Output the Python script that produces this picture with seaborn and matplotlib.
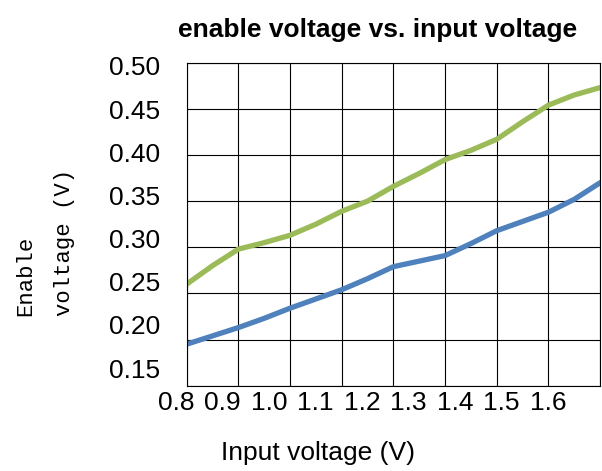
import matplotlib
matplotlib.use("Agg")
import matplotlib.pyplot as plt
import numpy as np
import pandas as pd
import seaborn as sns

# readings, 0.05 V steps
input_v = [0.80, 0.85, 0.90, 0.95, 1.00, 1.05, 1.10, 1.15, 1.20,
           1.25, 1.30, 1.35, 1.40, 1.45, 1.50, 1.55, 1.60]
upper = [0.260, 0.280, 0.298, 0.305, 0.313, 0.325, 0.339, 0.350, 0.366,
         0.380, 0.395, 0.405, 0.417, 0.436, 0.454, 0.465, 0.473]
lower = [0.195, 0.204, 0.213, 0.223, 0.234, 0.244, 0.254, 0.266, 0.279,
         0.285, 0.291, 0.304, 0.318, 0.328, 0.338, 0.352, 0.370]

x_grid = [0.8, 0.9, 1.0, 1.1, 1.2, 1.3, 1.4, 1.5, 1.6]
x_labels = ["0.8", "0.9", "1.0", "1.1", "1.2", "1.3", "1.4", "1.5", "1.6"]
y_grid = [0.15, 0.20, 0.25, 0.30, 0.35, 0.40, 0.45, 0.50]
y_labels = ["0.15", "0.20", "0.25", "0.30", "0.35", "0.40", "0.45", "0.50"]

df = pd.DataFrame({
    "input": input_v * 2,
    "enable": upper + lower,
    "curve": ["upper"] * len(upper) + ["lower"] * len(lower),
})

sns.set_style("white")
plt.rcParams["font.family"] = ["Liberation Sans", "DejaVu Sans"]
plt.rcParams["text.color"] = "black"

fig = plt.figure(figsize=(6.02, 4.71), dpi=100)
rect = [0.310, 0.181, 0.687, 0.686]
ax = fig.add_axes(rect)

sns.lineplot(data=df, x="input", y="enable", hue="curve",
             palette={"upper": "#9BBB59", "lower": "#4F81BD"},
             linewidth=3.8, legend=False, ax=ax)

ax.set_xticks(x_grid)
ax.set_yticks(y_grid)
ax.set_xticklabels([])
ax.set_yticklabels([])
ax.set_xlim(x_grid[0], x_grid[-1])
ax.set_ylim(y_grid[0], y_grid[-1])
ax.grid(True, color="black", linewidth=0.8)
ax.tick_params(length=0)
for s in ax.spines.values():
    s.set_color("black")
    s.set_linewidth(0.8)
ax.set_xlabel("")
ax.set_ylabel("")

# the original's tick labels sit on a slightly tighter pitch than its gridlines,
# so they live on transparent overlay axes
labx = fig.add_axes([0.249, 0.181, 0.748, 0.686], frameon=False)
labx.patch.set_visible(False)
labx.set_xticks(range(len(x_labels)), x_labels)
labx.set_yticks([])
labx.set_xlim(-0.559, 9.118)
labx.tick_params(length=0, labelsize=19, colors="black", pad=4)

laby = fig.add_axes(rect, frameon=False)
laby.patch.set_visible(False)
laby.set_yticks(range(len(y_labels)), y_labels)
laby.set_xticks([])
laby.set_ylim(-0.410, 7.077)
laby.tick_params(length=0, labelsize=19, colors="black", pad=19)

fig.text(0.628, 0.936, "enable voltage vs. input voltage", ha="center",
         va="center", fontsize=19, fontweight="bold", color="black")
fig.text(0.529, 0.038, "Input voltage (V)", ha="center", va="center",
         fontsize=19, color="black")
fig.text(0.075, 0.486, "Enable\nvoltage (V)", rotation=90, ha="center",
         va="center", multialignment="left", fontsize=16, color="black",
         family="Liberation Mono", linespacing=2.1)

fig.savefig("out.png", dpi=100)
